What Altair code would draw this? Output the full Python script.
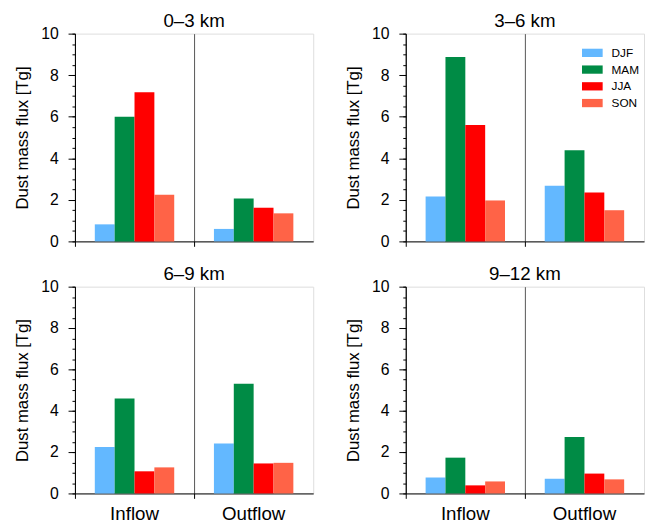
import altair as alt
import pandas as pd

layers = ["0–3 km", "3–6 km", "6–9 km", "9–12 km"]
seasons = ["DJF", "MAM", "JJA", "SON"]
flows = ["Inflow", "Outflow"]
colors = ["#63b8ff", "#008b45", "#ff0000", "#ff6347"]

inflow = {
    "0–3 km": [0.82, 6.00, 7.18, 2.25],
    "3–6 km": [2.16, 8.87, 5.60, 1.97],
    "6–9 km": [2.24, 4.59, 1.07, 1.26],
    "9–12 km": [0.77, 1.73, 0.39, 0.58],
}
outflow = {
    "0–3 km": [0.60, 2.06, 1.62, 1.35],
    "3–6 km": [2.68, 4.39, 2.35, 1.50],
    "6–9 km": [2.41, 5.30, 1.45, 1.48],
    "9–12 km": [0.71, 2.73, 0.96, 0.68],
}
major_ticks = [0, 2, 4, 6, 8, 10]
minor_ticks = [i * 0.5 for i in range(21)]

FONT = "Liberation Sans"
W = 242


def panel_df(layer):
    rows = []
    for f, vals in (("Inflow", inflow[layer]), ("Outflow", outflow[layer])):
        for s, v in zip(seasons, vals):
            rows.append({"flow": f, "season": s, "value": v})
    return pd.DataFrame(rows)


def panel(layer, bottom, legend, height):
    df = panel_df(layer)
    yscale = alt.Scale(domain=[0, 10], nice=False, zero=True)
    xaxis = alt.Axis(
        title=None, bandPosition=0, grid=True, gridColor="#555555", gridWidth=1,
        ticks=True, tickSize=5, tickColor="black", domainColor="black",
        labels=bottom, labelAngle=0, labelFontSize=19, labelFont=FONT,
        labelColor="black", labelPadding=6,
    )
    if legend:
        leg = alt.Legend(
            title=None, orient="none", legendX=179, legendY=9,
            symbolType="M-1,-0.4L1,-0.4L1,0.4L-1,0.4Z", symbolSize=441,
            symbolStrokeWidth=0, symbolOpacity=1, labelFontSize=12,
            labelFont=FONT, labelColor="black", labelOffset=9,
            rowPadding=-4, padding=0,
        )
    else:
        leg = None
    bars = alt.Chart(df).mark_bar(opacity=1).encode(
        x=alt.X("flow:N", sort=flows,
                scale=alt.Scale(domain=flows, paddingInner=0, paddingOuter=0),
                axis=xaxis),
        xOffset=alt.XOffset("season:N", sort=seasons,
                            scale=alt.Scale(domain=seasons, paddingInner=0, paddingOuter=1)),
        y=alt.Y("value:Q", scale=yscale, axis=alt.Axis(
            title="Dust mass flux [Tg]", values=major_ticks, format="d",
            tickSize=7, tickColor="black", domainColor="black", grid=False,
            labelFontSize=16, labelFont=FONT, labelColor="black", labelPadding=10,
            titleFontSize=17, titleFont=FONT, titleFontWeight="normal",
            titleColor="black", titlePadding=9, orient="left")),
        color=alt.Color("season:N", scale=alt.Scale(domain=seasons, range=colors),
                        legend=leg),
    )
    minor = alt.Chart(df).mark_tick(opacity=0).encode(
        y=alt.Y("value:Q", scale=yscale, axis=alt.Axis(
            title=None, values=minor_ticks, labels=False, tickSize=3,
            tickColor="black", domain=False, grid=False, orient="left")),
    )
    return alt.layer(bars, minor).resolve_axis(y="independent").properties(
        width=W, height=height,
        title=alt.TitleParams(layer, fontSize=19, font=FONT, fontWeight="normal",
                              color="black", offset=-5, anchor="middle"),
    )


top = alt.hconcat(panel(layers[0], False, False, 211), panel(layers[1], False, True, 211),
                  spacing=30).resolve_scale(color="independent")
bot = alt.hconcat(panel(layers[2], True, False, 210), panel(layers[3], True, False, 210),
                  spacing=30).resolve_scale(color="independent")
chart = alt.vconcat(top, bot, spacing=14).resolve_scale(color="independent").properties(
    padding={"left": 5, "top": -1, "right": 0, "bottom": -4},
).configure_view(stroke="black", strokeWidth=1).configure(background="white")

chart.save("out.html", embed_options={"renderer": "svg", "actions": False})
